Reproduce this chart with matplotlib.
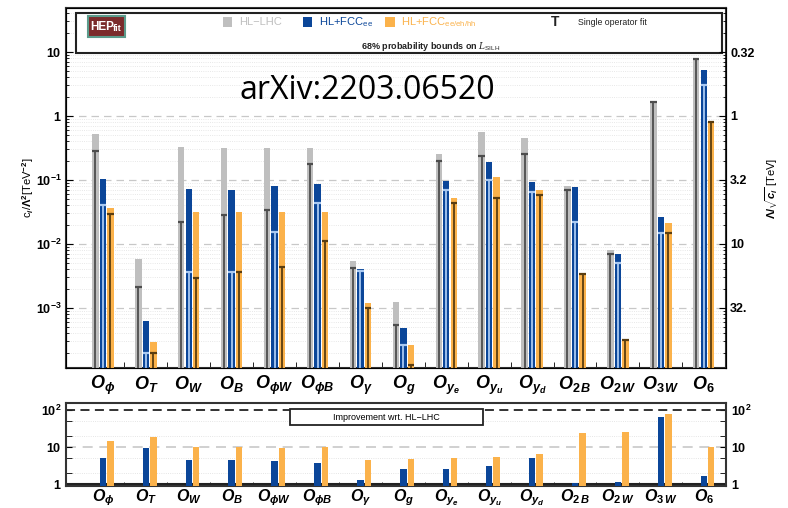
import matplotlib
matplotlib.use("Agg")
import matplotlib.pyplot as plt
import matplotlib.ticker as ticker
from matplotlib.patches import Rectangle
import numpy as np

plt.rcParams['font.family'] = ['Liberation Sans', 'DejaVu Sans']
plt.rcParams['mathtext.fontset'] = 'custom'
plt.rcParams['mathtext.rm'] = 'Liberation Sans:bold'
plt.rcParams['mathtext.it'] = 'Liberation Sans:italic:bold'
plt.rcParams['mathtext.bf'] = 'Liberation Sans:bold'
plt.rcParams['mathtext.sf'] = 'Liberation Sans'
plt.rcParams['mathtext.cal'] = 'DejaVu Serif:italic'

operators = [r"$O_{\phi}$", r"$O_{T}$", r"$O_{W}$", r"$O_{B}$", r"$O_{\phi W}$", r"$O_{\phi B}$",
             r"$O_{\gamma}$", r"$O_{g}$", r"$O_{y_e}$", r"$O_{y_u}$", r"$O_{y_d}$",
             r"$O_{2\,B}$", r"$O_{2\,W}$", r"$O_{3\,W}$", r"$O_{6}$"]

# 68% bounds on c_i/Lambda^2 [TeV^-2], global fit
hllhc_glob = [0.52, 0.0058, 0.33, 0.32, 0.32, 0.32, 0.0054, 0.00125, 0.255, 0.56, 0.46, 0.081, 0.0080, 1.67, 8.0]
fccee_glob = [0.102, 6.3e-4, 0.072, 0.070, 0.080, 0.086, 0.0040, 4.8e-4, 0.095, 0.19, 0.093, 0.077, 0.0070, 0.026, 5.2]
fccall_glob = [0.036, 2.96e-4, 0.032, 0.032, 0.032, 0.032, 0.0012, 2.6e-4, 0.052, 0.111, 0.070, 0.0034, 3.1e-4, 0.0215, 0.80]
# single operator fits
hllhc_single = [0.28, 0.0021, 0.022, 0.028, 0.034, 0.18, 0.0042, 5.4e-4, 0.20, 0.24, 0.255, 0.070, 0.0070, 1.65, 7.9]
fccee_single = [0.040, 2.0e-4, 0.0036, 0.0036, 0.0156, 0.043, 0.0038, 2.6e-4, 0.070, 0.099, 0.065, 0.022, 0.0050, 0.015, 3.05]
fccall_single = [0.029, 1.95e-4, 0.0029, 0.0036, 0.0043, 0.011, 0.0010, 1.3e-4, 0.044, 0.052, 0.059, 0.0034, 3.1e-4, 0.015, 0.80]

# improvement wrt HL-LHC
impr_fccee = [5.0, 9.4, 4.5, 4.5, 4.1, 3.7, 1.3, 2.6, 2.6, 3.1, 5.0, 1.05, 1.15, 65, 1.6]
impr_fccall = [14.5, 18.6, 10, 10, 9.6, 10, 4.4, 4.8, 5.0, 5.4, 6.6, 24, 25, 76, 10]

c_gray = '#bfbfbf'
c_blue = '#0b4699'
c_orange = '#fbb24b'
c_gray_line = '#4d4d4d'
c_blue_line = '#a9c9f2'
c_orange_line = '#5a3d10'

fig = plt.figure(figsize=(7.88, 5.08), dpi=100)
ax = fig.add_axes([0.0838, 0.2756, 0.8376, 0.7086])
ax2 = fig.add_axes([0.0838, 0.0433, 0.8376, 0.1634])

x = np.arange(len(operators))
w = 0.15
off = [-0.175, 0.0, 0.175]
ymin = 1.15e-4
ymax = 48.7

ax.set_yscale('log')
ax.set_ylim(ymin, ymax)
ax.set_xlim(-0.86, 14.52)

def draw_series(xs, tops, singles, face, line):
    ax.bar(xs, np.array(tops) - 1e-6, width=w, bottom=1e-6, color=face, zorder=3)
    ax.vlines(xs, 1e-6, singles, color=line, lw=1.3, zorder=4)
    ax.hlines(singles, xs - w / 2, xs + w / 2, color=line, lw=1.6, zorder=4)

draw_series(x + off[0], hllhc_glob, hllhc_single, c_gray, c_gray_line)
draw_series(x + off[1], fccee_glob, fccee_single, c_blue, c_blue_line)
draw_series(x + off[2], fccall_glob, fccall_single, c_orange, c_orange_line)

# grid
for v in [1e-3, 1e-2, 1e-1, 1, 10]:
    ax.axhline(v, color='#c8c8c8', lw=0.9, ls=(0, (6, 4)), zorder=1)
ax.yaxis.set_minor_locator(ticker.LogLocator(base=10, subs=np.arange(2, 10)))
ax.grid(which='minor', axis='y', color='#e0e0e0', lw=0.6, ls=':', zorder=0)

ax.set_yticks([1e-3, 1e-2, 1e-1, 1, 10])
ax.set_yticklabels([r"$10^{-3}$", r"$10^{-2}$", r"$10^{-1}$", r"$1$", r"$10$"], fontsize=9)
ax.yaxis.set_minor_formatter(ticker.NullFormatter())
ax.tick_params(axis='y', which='both', direction='in', right=False)
ax.tick_params(axis='y', which='major', length=5, pad=3)
ax.tick_params(axis='y', which='minor', length=2.5)
ax.set_ylabel(r"c$_i$/$\Lambda^2$[TeV$^{-2}$]", fontsize=8, labelpad=0)

ax.set_xticks(x)
ax.set_xticklabels(operators, fontsize=13)
ax.set_xticks(x[:-1] + 0.5, minor=True)
ax.tick_params(axis='x', which='major', length=0, pad=4)
ax.tick_params(axis='x', which='minor', direction='in', length=4, top=False)

for s in ax.spines.values():
    s.set_linewidth(1.5)
    s.set_color('#333333')

# right axis in Lambda/sqrt(c)
axr = ax.twinx()
axr.set_yscale('log')
axr.set_ylim(ymin, ymax)
axr.set_yticks([1e-3, 1e-2, 1e-1, 1, 10])
axr.set_yticklabels(["32.", "10", "3.2", "1", "0.32"], fontsize=9, fontweight='bold')
axr.yaxis.set_minor_locator(ticker.LogLocator(base=10, subs=np.arange(2, 10)))
axr.yaxis.set_minor_formatter(ticker.NullFormatter())
axr.tick_params(axis='y', which='both', direction='in')
axr.tick_params(axis='y', which='major', length=5, pad=3)
axr.tick_params(axis='y', which='minor', length=2.5)
axr.set_ylabel(r"$\Lambda/\sqrt{c_i}$ [TeV]", fontsize=8, labelpad=6)

# legend box
ax.add_patch(Rectangle((0.015, 0.875), 0.979, 0.111, transform=ax.transAxes,
                       facecolor='white', edgecolor='#222222', lw=1.5, zorder=6))
ax.add_patch(Rectangle((0.033, 0.919), 0.056, 0.059, transform=ax.transAxes,
                       facecolor='#7b2b2b', edgecolor='#5b9b8b', lw=1.5, zorder=7))
ax.text(0.037, 0.948, "HEP", transform=ax.transAxes, color='white', fontsize=8.5,
        fontweight='bold', va='center', ha='left', zorder=8)
ax.text(0.071, 0.942, "fit", transform=ax.transAxes, color='white', fontsize=6.5,
        fontweight='bold', va='center', ha='left', zorder=8)

leg_y = 0.961
for xs, col, lab in [(0.245, c_gray, "HL\u2212LHC"),
                     (0.366, c_blue, r"HL+FCC$_{\mathsf{ee}}$"),
                     (0.491, c_orange, r"HL+FCC$_{\mathsf{ee/eh/hh}}$")]:
    ax.add_patch(Rectangle((xs - 0.007, leg_y - 0.013), 0.014, 0.027, transform=ax.transAxes,
                           facecolor=col, edgecolor='none', zorder=7))
    ax.text(xs + 0.017, leg_y, lab, transform=ax.transAxes, color=col, fontsize=8,
            va='center', ha='left', zorder=8)
ax.text(0.741, leg_y, "T", transform=ax.transAxes, color='#222222', fontsize=10,
        fontweight='bold', va='center', ha='center', zorder=8)
ax.text(0.776, leg_y, "Single operator fit", transform=ax.transAxes, color='#222222',
        fontsize=6.3, va='center', ha='left', zorder=8)
ax.text(0.552, 0.893, r"68% probability bounds on $\mathcal{L}_{\mathsf{SILH}}$",
        transform=ax.transAxes, color='#222222', fontsize=6.5, fontweight='bold',
        va='center', ha='center', zorder=8)

fig.text(0.466, 0.822, "arXiv:2203.06520", fontsize=23, family='Open Sans',
         ha='center', va='center')

# lower panel: improvement
ax2.set_yscale('log')
ax2.set_ylim(0.88, 155)
ax2.set_xlim(-0.86, 14.52)
ax2.bar(x + off[1], np.array(impr_fccee) - 0.5, width=w, bottom=0.5, color=c_blue, zorder=3)
ax2.bar(x + off[2], np.array(impr_fccall) - 0.5, width=w, bottom=0.5, color=c_orange, zorder=3)
ax2.axhline(100, color='#222222', lw=1.3, ls=(0, (5, 3)), zorder=2)
ax2.axhline(10, color='#c8c8c8', lw=1.2, ls=(0, (6, 4)), zorder=1)
ax2.axhline(1, color='#222222', lw=1.5, zorder=2)
ax2.yaxis.set_minor_locator(ticker.LogLocator(base=10, subs=[2, 5]))
ax2.yaxis.set_minor_formatter(ticker.NullFormatter())
ax2.grid(which='minor', axis='y', color='#dddddd', lw=0.6, ls=':', zorder=0)
ax2.set_yticks([1, 10, 100])
ax2.set_yticklabels([r"$1$", r"$10$", r"$10^2$"], fontsize=9)
ax2.tick_params(axis='y', which='both', direction='in', right=True, labelright=True, length=4)
ax2.set_xticks(x)
ax2.set_xticklabels(operators, fontsize=11.5)
ax2.set_xticks(x[:-1] + 0.5, minor=True)
ax2.tick_params(axis='x', which='major', length=0, pad=1)
ax2.tick_params(axis='x', which='minor', direction='in', length=3)
for s in ax2.spines.values():
    s.set_linewidth(1.5)
    s.set_color('#333333')
ax2.add_patch(Rectangle((0.339, 0.735), 0.293, 0.193, transform=ax2.transAxes,
                        facecolor='white', edgecolor='#222222', lw=1.3, zorder=6))
ax2.text(0.4855, 0.83, "Improvement wrt. HL\u2212LHC", transform=ax2.transAxes,
         fontsize=6.5, ha='center', va='center', zorder=7)

fig.savefig("out.png", dpi=100)
